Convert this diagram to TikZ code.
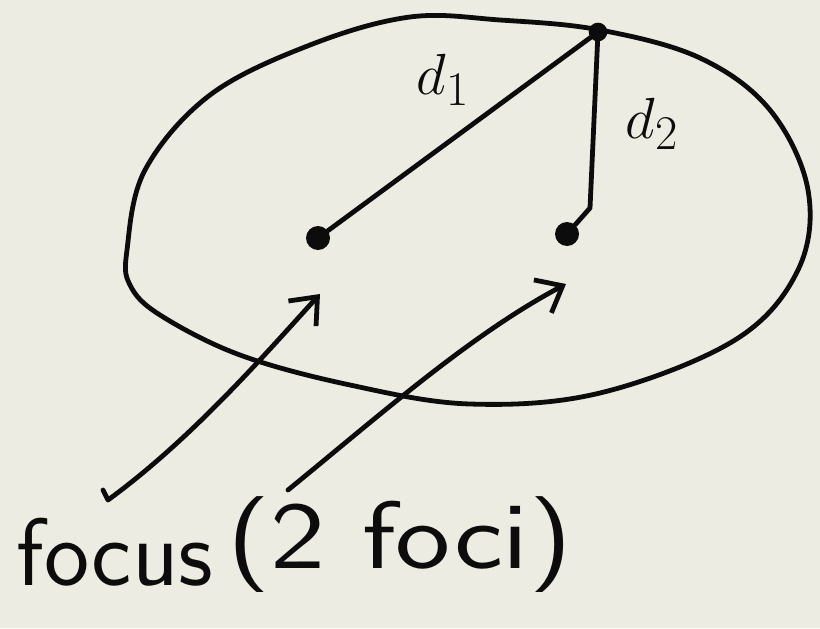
\documentclass[tikz,border=0pt]{standalone}
\usetikzlibrary{arrows.meta}
\definecolor{paper}{RGB}{236,236,226}
\definecolor{ink}{RGB}{12,12,12}
\tikzset{
  pen/.style={draw=ink, line width=3.6pt, line cap=round, line join=round},
  dot/.style={circle, fill=ink, inner sep=0pt, minimum size=18pt},
  pdot/.style={circle, fill=ink, inner sep=0pt, minimum size=14pt},
  lbl/.style={text=ink, font=\Huge, scale=1.75},
  big/.style={text=ink, font=\fontsize{72}{80}\selectfont\sffamily},
  arr/.style={pen, -{Straight Barb[length=17pt,width=28pt,line width=3.6pt]}}
}
\begin{document}
\begin{tikzpicture}[x=0.75pt,y=-0.75pt]
\fill[paper] (0,0) rectangle (820,628);
\useasboundingbox (0,0) rectangle (820,628);
% ellipse
\draw[pen] plot[smooth cycle, tension=0.6] coordinates {
 (127,250) (145,170) (210,95) (310,45) (410,17) (500,20) (600,30)
 (700,58) (770,110) (808,190) (798,270) (735,340) (600,393)
 (470,404) (350,385) (240,355) (160,315) (130,285)};
% points
\node[pdot] (P) at (598,32) {};
\node[dot] (F1) at (318,238) {};
\node[dot] (F2) at (567,234) {};
\draw[pen] (P) -- (F1);
\draw[pen] (P) -- (590,208) -- (F2);
\node[lbl] (d1) at (443,80) {$d_1$};
\node[lbl] (d2) at (652,124) {$d_2$};
% arrows
\coordinate (a1s) at (108,500);
\coordinate (a1e) at (320,294);
\coordinate (a2s) at (288,490);
\coordinate (a2e) at (566,284);
\draw[arr] (103,490) -- (a1s) .. controls (190,440) and (260,360) .. (a1e);
\draw[arr] (a2s) .. controls (380,415) and (470,335) .. (a2e);
% labels
\node[big, anchor=base west] (focus) at (12,585) {focus};
\node[big, anchor=base west, xscale=1.22] (foci) at (222,568) {(2 foci)};
\end{tikzpicture}
\end{document}
